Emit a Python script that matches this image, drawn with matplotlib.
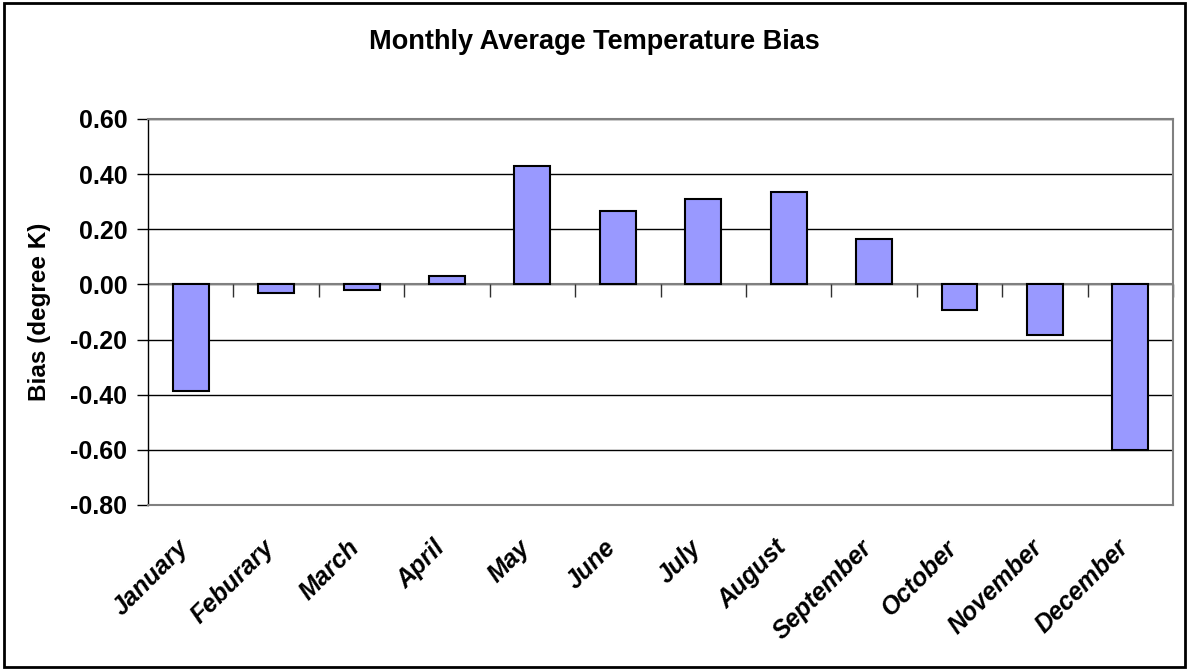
import numpy as np
import matplotlib.pyplot as plt
import matplotlib.transforms as mtransforms
from matplotlib.patches import Rectangle
from matplotlib.lines import TICKDOWN

plt.rcParams['font.family'] = ['Liberation Sans', 'DejaVu Sans']
plt.rcParams['font.weight'] = 'bold'

months = ['January', 'Feburary', 'March', 'April', 'May', 'June', 'July',
          'August', 'September', 'October', 'November', 'December']
bias = [-0.385, -0.03, -0.02, 0.03, 0.43, 0.268, 0.311, 0.337, 0.165,
        -0.093, -0.185, -0.60]
yticks = [0.6, 0.4, 0.2, 0.0, -0.2, -0.4, -0.6, -0.8]

fig = plt.figure(figsize=(11.89, 6.70), dpi=100)
ax = fig.add_axes([0.1245, 0.2463, 0.8621, 0.5761])

x = np.arange(len(months))
ax.bar(x, bias, width=0.42, color='#9999FF', edgecolor='black', linewidth=1.5, zorder=3)

ax.set_ylim(-0.8, 0.6)
ax.set_xlim(-0.5, len(months) - 0.5)
ax.set_yticks(yticks)
ax.set_yticklabels(['%.2f' % v for v in yticks], fontsize=18, fontweight='bold')
ax.yaxis.grid(True, color='black', linewidth=1)
ax.set_axisbelow(True)
ax.tick_params(axis='y', length=8, width=1, direction='out', pad=7)

# category axis sits at zero with ticks between categories
ax.axhline(0, color='#808080', linewidth=1.5, zorder=2)
bounds = np.arange(len(months) + 1) - 0.5
ax.plot(bounds[1:], np.zeros(len(bounds) - 1), linestyle='none', marker=TICKDOWN,
        markersize=9, markeredgewidth=1, color='#303030', zorder=2, clip_on=False)

ax.set_xticks(x)
ax.set_xticklabels(months, rotation=45, ha='right', rotation_mode='anchor',
                   fontsize=18, fontweight='bold', style='italic')
ax.tick_params(axis='x', length=0, pad=22)
shift = mtransforms.ScaledTranslation(-14 / 100, 0, fig.dpi_scale_trans)
for lbl in ax.get_xticklabels():
    lbl.set_transform(lbl.get_transform() + shift)

for s in ['top', 'right', 'bottom']:
    ax.spines[s].set_color('#808080')
    ax.spines[s].set_linewidth(1.5)
ax.spines['left'].set_color('black')
ax.spines['left'].set_linewidth(1)

ax.set_ylabel('Bias (degree K)', fontsize=17.5, fontweight='bold', labelpad=14)
fig.text(0.5, 0.937, 'Monthly Average Temperature Bias', ha='center', va='center',
         fontsize=19.5, fontweight='bold')

fig.patches.append(Rectangle((0.003, 0.004), 0.994, 0.992, transform=fig.transFigure,
                             fill=False, edgecolor='black', linewidth=2))

fig.savefig('out.png', dpi=100)
